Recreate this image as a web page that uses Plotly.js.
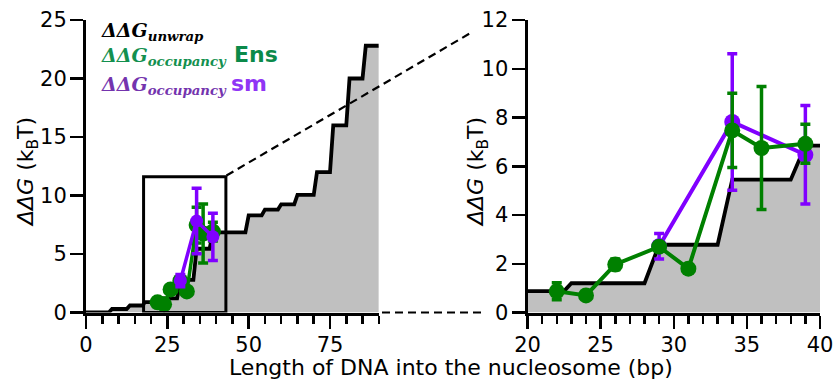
<!DOCTYPE html>
<html>
<head>
<meta charset="utf-8">
<script src="https://cdn.plot.ly/plotly-3.0.1.min.js"></script>
<style>html,body{margin:0;padding:0;background:#fff;}#chart{width:833px;height:384px;}</style>
</head>
<body>
<div id="chart"></div>
<script>
// ΔΔG_unwrap staircase (bp, kBT)
var unwrapX = [0, 7, 8, 12.5, 13.5, 17.5, 18, 22.5, 23, 28, 29, 33, 34, 38, 39, 49, 50, 54, 55, 59, 60, 64, 65, 70, 71, 75, 76, 80, 81, 85, 86, 90];
var unwrapY = [0, 0, 0.3, 0.3, 0.6, 0.6, 0.88, 0.88, 1.2, 1.2, 2.78, 2.78, 5.45, 5.45, 6.85, 6.85, 8.3, 8.3, 8.8, 8.8, 9.25, 9.25, 10.05, 10.05, 12.0, 12.0, 16.0, 16.0, 20.0, 20.0, 22.8, 22.8];
// ΔΔG_occupancy ensemble
var ensX = [22, 24, 26, 29, 31, 34, 36, 39];
var ensY = [0.87, 0.7, 1.97, 2.7, 1.8, 7.47, 6.75, 6.92];
var ensErr = [0.35, 0.12, 0.22, 0.12, 0, 1.52, 2.52, 0.8];
// ΔΔG_occupancy single molecule
var smX = [29, 34, 39];
var smY = [2.72, 7.82, 6.47];
var smErr = [0.52, 2.8, 2.02];

var GREEN = '#008000', PURPLE = '#8000ff', GRAY = '#c0c0c0';
var W = 833, H = 384;
function px(x){return x / W;}
function py(y){return 1 - y / H;}

function unwrapTrace(xa, ya){
  return {x: unwrapX, y: unwrapY, xaxis: xa, yaxis: ya, type: 'scatter', mode: 'lines',
    fill: 'tozeroy', fillcolor: GRAY, line: {color: 'black', width: 3.8, shape: 'linear'},
    hoverinfo: 'skip', showlegend: false};
}
function ptsTrace(x, y, err, color, xa, ya, size, lw){
  return {x: x, y: y, xaxis: xa, yaxis: ya, type: 'scatter', mode: 'lines+markers',
    line: {color: color, width: lw}, marker: {color: color, size: size},
    error_y: {type: 'data', array: err, visible: true, color: color, thickness: 3.5, width: 5},
    showlegend: false, cliponaxis: false};
}

var data = [
  unwrapTrace('x', 'y'),
  ptsTrace(ensX, ensY, ensErr, GREEN, 'x', 'y', 16, 3.5),
  ptsTrace(smX, smY, smErr, PURPLE, 'x', 'y', 13, 3.5),
  unwrapTrace('x2', 'y2'),
  ptsTrace(smX, smY, smErr, PURPLE, 'x2', 'y2', 16, 4),
  ptsTrace(ensX, ensY, ensErr, GREEN, 'x2', 'y2', 16, 4)
];

var sans = 'DejaVu Sans, Arial, sans-serif';
var serif = 'DejaVu Serif, Times New Roman, serif';
var tickFont = {family: sans, size: 21, color: 'black'};
function xAxis(domain, range, dtick, mdtick, anchor){
  return {domain: domain, range: range, anchor: anchor, showgrid: false, zeroline: false,
    showline: true, linecolor: 'black', linewidth: 3, ticks: 'outside', ticklen: 13, tickwidth: 2.5,
    tickcolor: 'black', dtick: dtick, tick0: 0, tickfont: tickFont, ticklabelstandoff: -2,
    ticklabeloverflow: 'allow',
    minor: {dtick: mdtick, tick0: 0, ticks: 'outside', ticklen: 8, tickwidth: 2.5, tickcolor: 'black', showgrid: false}};
}
function yAxis(range, dtick, anchor){
  return {domain: [py(312.5), py(20)], range: range, anchor: anchor, showgrid: false, zeroline: false,
    showline: true, linecolor: 'black', linewidth: 3, ticks: 'outside', ticklen: 13, tickwidth: 2.5,
    tickcolor: 'black', dtick: dtick, tick0: 0, tickfont: tickFont, ticklabelstandoff: -1,
    ticklabeloverflow: 'allow'};
}

var titleFont = {family: sans, size: 22, color: 'black'};

var layout = {
  width: W, height: H, margin: {l: 0, r: 0, t: 0, b: 0},
  paper_bgcolor: 'white', plot_bgcolor: 'rgba(0,0,0,0)', showlegend: false,
  xaxis: xAxis([px(86), px(378.8)], [0, 90], 25, 5, 'y'),
  yaxis: yAxis([0, 25], 5, 'x'),
  xaxis2: xAxis([px(527.5), px(820)], [20, 40], 5, 1, 'y2'),
  yaxis2: yAxis([0, 12], 2, 'x2'),
  shapes: [
    {type: 'rect', xref: 'x', yref: 'y', x0: 17.7, x1: 43, y0: 0, y1: 11.6,
      line: {color: 'black', width: 3}, layer: 'above'},
    {type: 'line', xref: 'paper', yref: 'paper', x0: px(226.5), y0: py(175.5), x1: px(470), y1: py(33.3),
      line: {color: 'black', width: 2.2, dash: '8px,5px'}},
    {type: 'line', xref: 'paper', yref: 'paper', x0: px(382), y0: py(312.5), x1: px(483), y1: py(312.5),
      line: {color: 'black', width: 2.2, dash: '8px,5px'}}
  ],
  annotations: [
    {xref: 'paper', yref: 'paper', x: px(451), y: py(367), xanchor: 'center', yanchor: 'middle', showarrow: false,
      text: 'Length of DNA into the nucleosome (bp)', font: titleFont},
    {xref: 'paper', yref: 'paper', x: px(27), y: py(172), xanchor: 'center', yanchor: 'middle', showarrow: false,
      textangle: -90, text: '<i>ΔΔG</i> (k<sub>B</sub>T)', font: titleFont},
    {xref: 'paper', yref: 'paper', x: px(477), y: py(172), xanchor: 'center', yanchor: 'middle', showarrow: false,
      textangle: -90, text: '<i>ΔΔG</i> (k<sub>B</sub>T)', font: titleFont},
    {xref: 'paper', yref: 'paper', x: px(99), y: py(17), xanchor: 'left', yanchor: 'top', showarrow: false,
      text: '<b><i>ΔΔG<sub>unwrap</sub></i></b>', font: {family: serif, size: 19, color: 'black'}},
    {xref: 'paper', yref: 'paper', x: px(99), y: py(42), xanchor: 'left', yanchor: 'top', showarrow: false,
      text: '<b><i>ΔΔG<sub>occupancy</sub></i></b>', font: {family: serif, size: 19, color: '#13904f'}},
    {xref: 'paper', yref: 'paper', x: px(232), y: py(54.5), xanchor: 'left', yanchor: 'middle', showarrow: false,
      text: '<b>Ens</b>', font: {family: sans, size: 22, color: '#0b8a4a'}},
    {xref: 'paper', yref: 'paper', x: px(99), y: py(71), xanchor: 'left', yanchor: 'top', showarrow: false,
      text: '<b><i>ΔΔG<sub>occupancy</sub></i></b>', font: {family: serif, size: 19, color: '#7434ae'}},
    {xref: 'paper', yref: 'paper', x: px(229), y: py(83), xanchor: 'left', yanchor: 'middle', showarrow: false,
      text: '<b>sm</b>', font: {family: sans, size: 22, color: '#9035f5'}}
  ]
};

Plotly.newPlot('chart', data, layout, {staticPlot: true, displayModeBar: false});
</script>
</body>
</html>
